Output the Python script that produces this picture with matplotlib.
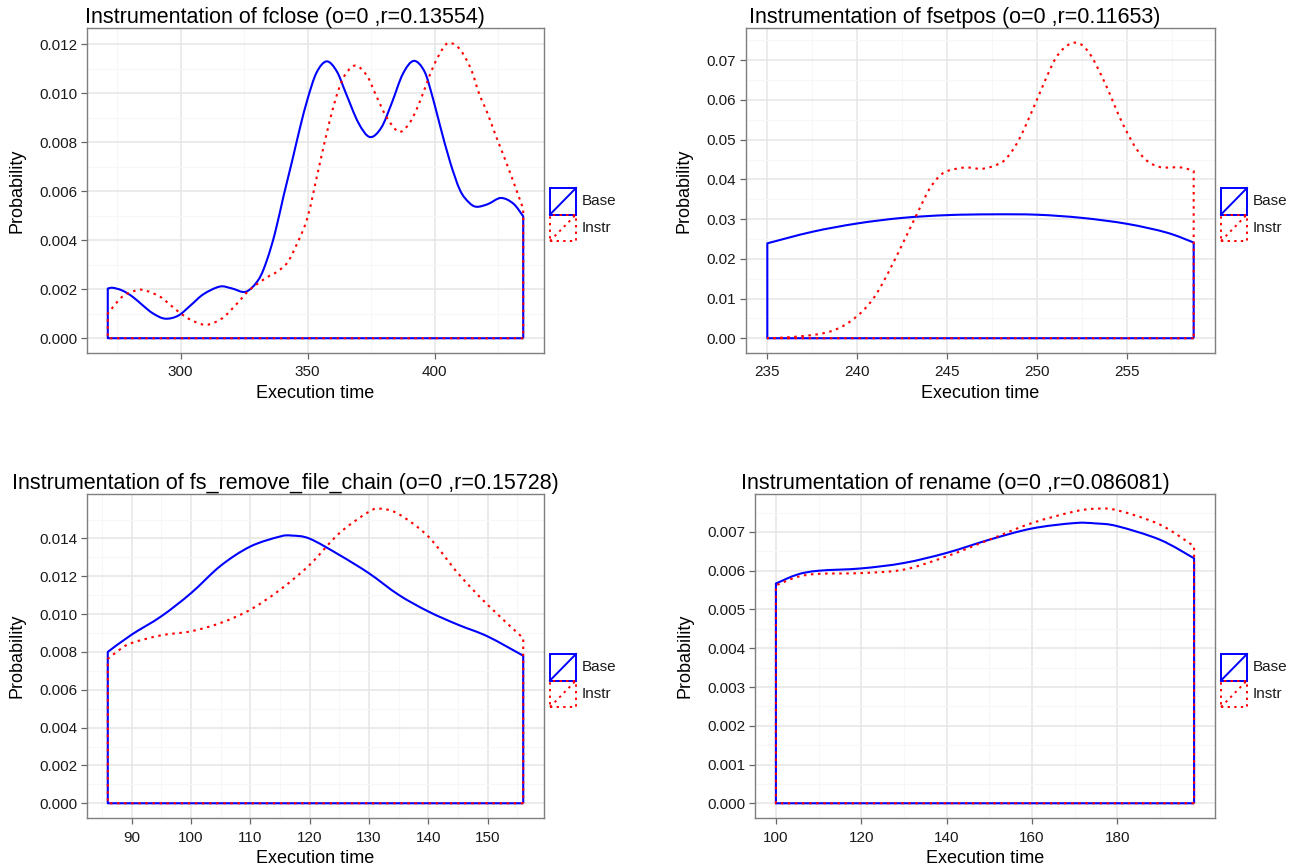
# density outlines of base vs instrumented execution times, 2x2 panels

import matplotlib
matplotlib.use('Agg')
import matplotlib.pyplot as plt
from matplotlib.patches import Rectangle, PathPatch
from matplotlib.lines import Line2D
from matplotlib.path import Path

plt.rcParams['font.family'] = ['Liberation Sans', 'DejaVu Sans']

# fclose
fclose_base_x = [271.3, 273.3, 277.0, 281.0, 285.0, 289.0, 293.8, 299.0, 304.0, 309.0, 315.4, 320.0, 325.7,
                 330.7, 334.0, 337.2, 340.5, 343.8, 347.0, 350.0, 353.5, 357.5, 361.5, 365.1, 370.0, 374.5,
                 379.0, 383.1, 387.5, 391.8, 396.0, 399.2, 402.1, 406.1, 410.0, 413.5, 416.5, 421.0, 426.1,
                 431.0, 434.9]
fclose_base_y = [0.00203, 0.00206, 0.00195, 0.00170, 0.00135, 0.00102, 0.00080, 0.00092, 0.00135, 0.00180,
                 0.00211, 0.00204, 0.00190, 0.00240, 0.00320, 0.00432, 0.00580, 0.00720, 0.00860, 0.00978,
                 0.01085, 0.01131, 0.01090, 0.01000, 0.00880, 0.00822, 0.00860, 0.00960, 0.01080, 0.01133,
                 0.01090, 0.00985, 0.00870, 0.00720, 0.00605, 0.00555, 0.00537, 0.00548, 0.00573, 0.00550,
                 0.00498]
fclose_instr_x = [271.3, 276.6, 280.5, 284.8, 291.3, 295.5, 299.5, 304.0, 309.3, 313.5, 317.5, 322.5, 327.4,
                  333.9, 338.0, 342.1, 346.0, 350.0, 354.5, 358.5, 362.0, 365.0, 369.0, 373.5, 376.6, 381.0,
                  385.7, 389.5, 393.0, 396.5, 399.5, 403.0, 405.8, 410.0, 414.3, 417.5, 420.8, 424.0, 427.4,
                  431.0, 434.9]
fclose_instr_y = [0.00101, 0.00166, 0.00188, 0.00198, 0.00173, 0.00140, 0.00105, 0.00075, 0.00055, 0.00065,
                  0.00091, 0.00145, 0.00200, 0.00248, 0.00272, 0.00310, 0.00390, 0.00495, 0.00700, 0.00880,
                  0.01010, 0.01080, 0.01114, 0.01070, 0.01000, 0.00905, 0.00844, 0.00870, 0.00937, 0.01030,
                  0.01110, 0.01180, 0.01207, 0.01180, 0.01100, 0.01000, 0.00920, 0.00830, 0.00740, 0.00640,
                  0.00528]

# fsetpos
fsetpos_base_x = [235.0, 237.5, 240.0, 242.5, 245.0, 247.5, 250.0, 252.5, 255.0, 257.2, 258.7]
fsetpos_base_y = [0.0239, 0.0268, 0.0289, 0.0303, 0.0310, 0.0312, 0.0311, 0.0303, 0.0288, 0.0266, 0.0241]
fsetpos_instr_x = [235.0, 236.0, 237.5, 238.5, 239.3, 240.0, 240.5, 241.0, 241.5, 242.0, 242.5, 243.0, 243.5,
                   244.0, 244.5, 245.0, 246.0, 247.0, 248.0, 248.5, 249.0, 249.5, 250.0, 250.5, 251.0, 251.5,
                   252.0, 252.5, 253.0, 253.5, 254.0, 254.5, 255.0, 255.5, 256.0, 256.5, 257.0, 258.0, 258.7]
fsetpos_instr_y = [0.0000, 0.0002, 0.0008, 0.0017, 0.0033, 0.0056, 0.0078, 0.0107, 0.0146, 0.0190, 0.0236,
                   0.0283, 0.0330, 0.0375, 0.0405, 0.0421, 0.0430, 0.0427, 0.0442, 0.0465, 0.0501, 0.0550,
                   0.0602, 0.0655, 0.0703, 0.0731, 0.0744, 0.0738, 0.0711, 0.0668, 0.0619, 0.0565, 0.0518,
                   0.0478, 0.0451, 0.0436, 0.0430, 0.0430, 0.0421]

# fs_remove_file_chain
remove_base_x = [86, 90, 95, 100, 105, 110, 115, 117, 120, 125, 130, 135, 140, 145, 150, 156]
remove_base_y = [0.00800, 0.00891, 0.00988, 0.01110, 0.01255, 0.01357, 0.01410, 0.01415, 0.01399, 0.01313,
                 0.01216, 0.01102, 0.01014, 0.00944, 0.00882, 0.00780]
remove_instr_x = [86, 88, 90, 95, 100, 105, 110, 115, 120, 125, 130, 132, 135, 140, 145, 150, 156]
remove_instr_y = [0.00763, 0.00812, 0.00847, 0.00888, 0.00909, 0.00953, 0.01023, 0.01128, 0.01260, 0.01427,
                  0.01541, 0.01557, 0.01529, 0.01410, 0.01216, 0.01049, 0.00873]

# rename
rename_base_x = [100, 105, 110, 120, 130, 140, 150, 160, 170, 175, 180, 190, 198]
rename_base_y = [0.00567, 0.00590, 0.00600, 0.00606, 0.00620, 0.00646, 0.00680, 0.00709, 0.00723, 0.00722,
                 0.00715, 0.00680, 0.00632]
rename_instr_x = [100, 105, 110, 120, 130, 140, 150, 160, 170, 175, 180, 190, 198]
rename_instr_y = [0.00562, 0.00584, 0.00592, 0.00594, 0.00603, 0.00637, 0.00680, 0.00723, 0.00753, 0.00760,
                  0.00756, 0.00719, 0.00663]

panels = [
    ('Instrumentation of fclose (o=0 ,r=0.13554)', fclose_base_x, fclose_base_y, fclose_instr_x, fclose_instr_y,
     [300, 350, 400], [0, 0.002, 0.004, 0.006, 0.008, 0.010, 0.012], '%.3f'),
    ('Instrumentation of fsetpos (o=0 ,r=0.11653)', fsetpos_base_x, fsetpos_base_y, fsetpos_instr_x, fsetpos_instr_y,
     [235, 240, 245, 250, 255], [0, 0.01, 0.02, 0.03, 0.04, 0.05, 0.06, 0.07], '%.2f'),
    ('Instrumentation of fs_remove_file_chain (o=0 ,r=0.15728)', remove_base_x, remove_base_y, remove_instr_x,
     remove_instr_y, [90, 100, 110, 120, 130, 140, 150], [0, 0.002, 0.004, 0.006, 0.008, 0.010, 0.012, 0.014], '%.3f'),
    ('Instrumentation of rename (o=0 ,r=0.086081)', rename_base_x, rename_base_y, rename_instr_x, rename_instr_y,
     [100, 120, 140, 160, 180], [0, 0.001, 0.002, 0.003, 0.004, 0.005, 0.006, 0.007], '%.3f'),
]

# axes boxes in pixels: left, top, right, bottom
boxes = [(87, 28, 544, 353), (746, 28, 1215, 353), (87, 494, 544, 818), (755, 494, 1215, 818)]
legend_top = [188, 188, 654, 654]
title_cx = [285, 955, 285, 955]

W, H = 1296, 867
fig = plt.figure(figsize=(12.96, 8.67), dpi=100)

dotted = (0, (1.2, 2.2))


def outline_path(xs, ys):
    # closed density outline; the curve part is a smooth bezier through the read points
    verts = [(xs[-1], 0), (xs[0], 0), (xs[0], ys[0])]
    codes = [Path.MOVETO, Path.LINETO, Path.LINETO]
    pts = list(zip(xs, ys))
    n = len(pts)
    for i in range(n - 1):
        p0 = pts[max(i - 1, 0)]
        p1 = pts[i]
        p2 = pts[i + 1]
        p3 = pts[min(i + 2, n - 1)]
        c1 = (p1[0] + (p2[0] - p0[0]) / 6, p1[1] + (p2[1] - p0[1]) / 6)
        c2 = (p2[0] - (p3[0] - p1[0]) / 6, p2[1] - (p3[1] - p1[1]) / 6)
        verts += [c1, c2, p2]
        codes += [Path.CURVE4] * 3
    verts.append((xs[-1], 0))
    codes.append(Path.LINETO)
    return Path(verts, codes)


for (title, bx, by, ix, iy, xt, yt, fmt), (l, t, r, b), lt, tcx in zip(panels, boxes, legend_top, title_cx):
    ax = fig.add_axes([l / W, 1 - b / H, (r - l) / W, (b - t) / H])
    ax.add_patch(PathPatch(outline_path(bx, by), fill=False, edgecolor='#0000ff', lw=1.5, joinstyle='round',
                           zorder=3))
    ax.add_patch(PathPatch(outline_path(ix, iy), fill=False, edgecolor='#ff0000', lw=1.5, linestyle=dotted,
                           zorder=4))

    ax.set_xticks(xt)
    ax.set_yticks(yt)
    ax.set_yticklabels([fmt % v for v in yt])
    # minor grid half way between the majors
    ax.set_xticks([(a + c) / 2 for a, c in zip([2 * xt[0] - xt[1]] + xt, xt + [2 * xt[-1] - xt[-2]])], minor=True)
    ax.set_yticks([(a + c) / 2 for a, c in zip(yt, yt[1:] + [2 * yt[-1] - yt[-2]])], minor=True)

    # limits after the ticks, ggplot style 5% padding
    xmin, xmax = min(bx + ix), max(bx + ix)
    ymax = max(by + iy)
    ax.set_xlim(xmin - 0.05 * (xmax - xmin), xmax + 0.05 * (xmax - xmin))
    ax.set_ylim(-0.05 * ymax, ymax * 1.05)

    ax.grid(which='major', color='#e5e5e5', lw=1.1, zorder=0)
    ax.grid(which='minor', color='#f7f7f7', lw=0.8, zorder=0)
    ax.set_axisbelow(True)
    ax.tick_params(which='minor', length=0)
    ax.tick_params(which='major', length=4, width=0.9, color='#666666', labelsize=11, labelcolor='#1a1a1a', pad=3)
    ax.tick_params(axis='x', pad=5)
    for s in ax.spines.values():
        s.set_color('#7f7f7f')
        s.set_linewidth(1.0)

    ax.set_xlabel('Execution time', fontsize=13, labelpad=4)
    ax.set_ylabel('Probability', fontsize=13, labelpad=10)
    fig.text(tcx / W, 1 - (t - 5) / H, title, fontsize=15.5, ha='center', va='baseline', color='black')

    # legend keys drawn by hand: box with diagonal, like ggplot's density key
    kx0, kx1 = (r + 6) / W, (r + 32) / W
    for k, (col, ls, lab) in enumerate([('#0000ff', '-', 'Base'), ('#ff0000', dotted, 'Instr')]):
        ky0 = 1 - (lt + 26.5 * (k + 1)) / H
        ky1 = 1 - (lt + 26.5 * k) / H
        fig.add_artist(Rectangle((kx0, ky0), kx1 - kx0, ky1 - ky0, transform=fig.transFigure, fill=False,
                                 edgecolor=col, lw=1.4, linestyle=ls, zorder=5 + k))
        fig.add_artist(Line2D([kx0, kx1], [ky0, ky1], transform=fig.transFigure, color=col, lw=1.4,
                              linestyle=ls, zorder=5 + k))
        fig.text((r + 38) / W, (ky0 + ky1) / 2, lab, fontsize=11, va='center', ha='left', color='#1a1a1a')

fig.savefig('out.png', dpi=100)
